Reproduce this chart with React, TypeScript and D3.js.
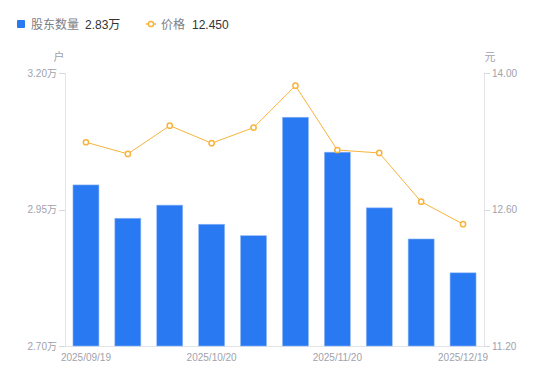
import React from "react";
import * as d3 from "d3";

const dates = ["2025/09/19", "2025/09/30", "2025/10/10", "2025/10/20", "2025/10/31", "2025/11/10", "2025/11/20", "2025/11/28", "2025/12/10", "2025/12/19"];
const holders = [2.995, 2.934, 2.958, 2.923, 2.902, 3.119, 3.055, 2.953, 2.896, 2.834];
const prices = [13.29, 13.17, 13.46, 13.28, 13.44, 13.87, 13.21, 13.18, 12.68, 12.45];
const leftTicks = [2.7, 2.95, 3.2];
const rightTicks = [11.2, 12.6, 14.0];
const shownDates = ["2025/09/19", "2025/10/20", "2025/11/20", "2025/12/19"];

const W = 550, H = 381;
const L = 65, R = 484, T = 73, B = 346;
const font = "'Liberation Sans', Arial, 'Noto Sans CJK SC', sans-serif";
const gray = "#9fa2ac";
const blue = "#2979f2";
const orange = "#f8b33c";

export default function App() {
  const x = d3.scaleBand<string>().domain(dates).range([L, R]).paddingInner(0.38).paddingOuter(0.19);
  const yL = d3.scaleLinear().domain([2.7, 3.2]).range([B, T]);
  const yR = d3.scaleLinear().domain([11.2, 14.0]).range([B, T]);
  const cx = (d: string) => (x(d) as number) + x.bandwidth() / 2;
  const line = d3.line<number>().x((_, i) => cx(dates[i])).y((v) => yR(v));

  return (
    <svg width={W} height={H} style={{ position: "absolute", left: 0, top: 0, fontFamily: font }}>
      {/* legend */}
      <rect x={17} y={20} width={8} height={8} rx={1} fill={blue} />
      <text x={31} y={28.5} fontSize={12} fill="#7b7e88">股东数量</text>
      <text x={85} y={28.5} fontSize={12} fill="#333">{holders[holders.length - 1].toFixed(2)}万</text>
      <line x1={146} x2={156} y1={24} y2={24} stroke={orange} strokeWidth={1.5} />
      <circle cx={151} cy={24} r={2.6} fill="#fff" stroke={orange} strokeWidth={1.5} />
      <text x={161} y={28.5} fontSize={12} fill="#7b7e88">价格</text>
      <text x={192} y={28.5} fontSize={12} fill="#333">{prices[prices.length - 1].toFixed(3)}</text>

      {/* unit labels */}
      <text x={59} y={61} fontSize={11} fill={gray} textAnchor="middle">户</text>
      <text x={490} y={61} fontSize={11} fill={gray} textAnchor="middle">元</text>

      {/* axes */}
      <line x1={L + 0.5} x2={L + 0.5} y1={T} y2={B} stroke="#e3e4e8" />
      <line x1={R + 0.5} x2={R + 0.5} y1={T} y2={B} stroke="#e3e4e8" />
      <line x1={L} x2={R} y1={B + 0.5} y2={B + 0.5} stroke="#e3e4e8" />
      {leftTicks.map((t) => (
        <g key={"l" + t}>
          <line x1={L - 6} x2={L} y1={Math.round(yL(t)) + 0.5} y2={Math.round(yL(t)) + 0.5} stroke="#d8d9de" />
          <text x={L - 8} y={yL(t) + 3.5} fontSize={10} fill={gray} textAnchor="end">{t.toFixed(2)}万</text>
        </g>
      ))}
      {rightTicks.map((t) => (
        <g key={"r" + t}>
          <line x1={R} x2={R + 6} y1={Math.round(yR(t)) + 0.5} y2={Math.round(yR(t)) + 0.5} stroke="#d8d9de" />
          <text x={R + 8} y={yR(t) + 3.5} fontSize={10} fill={gray}>{t.toFixed(2)}</text>
        </g>
      ))}
      {shownDates.map((d) => (
        <text key={d} x={cx(d)} y={361} fontSize={10} fill={gray} textAnchor="middle">{d}</text>
      ))}

      {/* bars */}
      {holders.map((v, i) => (
        <rect key={i} x={x(dates[i])} y={yL(v)} width={x.bandwidth()} height={B - yL(v)} fill={blue} stroke="#8fb8f7" strokeWidth={0.6} />
      ))}

      {/* line */}
      <path d={line(prices) || ""} fill="none" stroke={orange} strokeWidth={1} />
      {prices.map((v, i) => (
        <circle key={i} cx={cx(dates[i])} cy={yR(v)} r={2.6} fill="#fff" stroke={orange} strokeWidth={1.5} />
      ))}
    </svg>
  );
}
